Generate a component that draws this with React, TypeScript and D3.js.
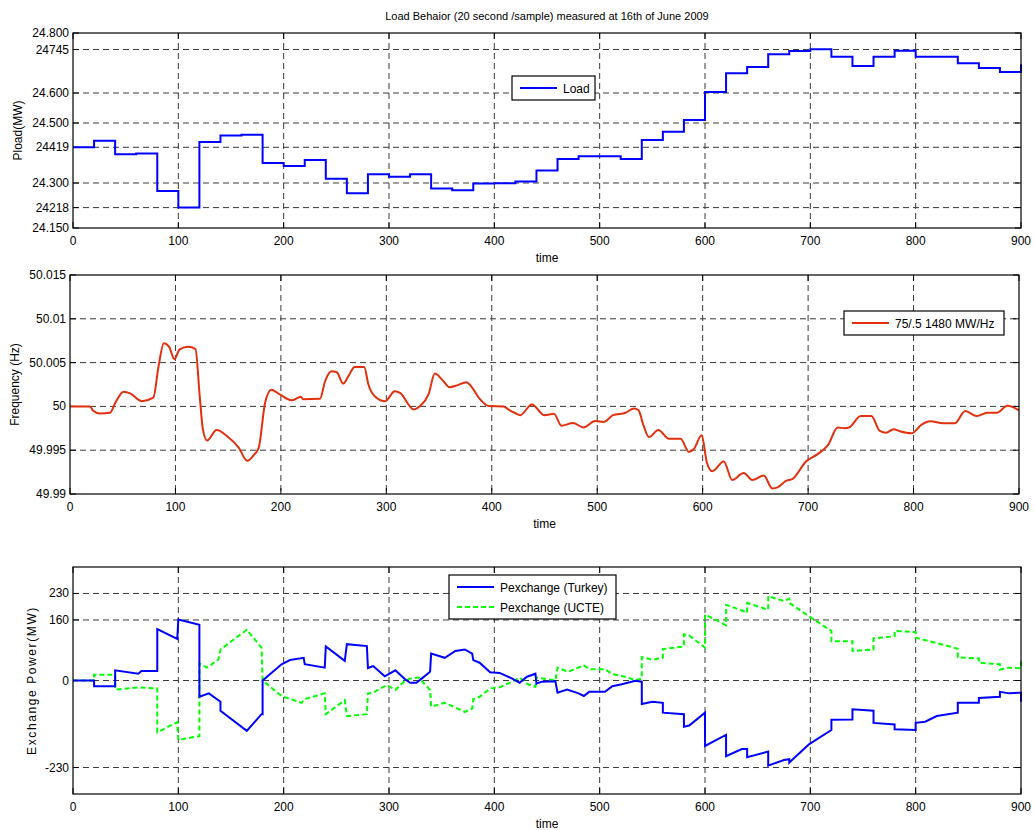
import React, { useRef, useEffect } from 'react';
import * as d3 from 'd3';

// Pload (x1000 MW), one sample every 20 s, last point at t=900
const loadTimes = d3.range(0, 901, 20);
const loadValues = [
  24.419, 24.441, 24.396, 24.398, 24.273, 24.218, 24.437, 24.458, 24.461, 24.367,
  24.357, 24.377, 24.314, 24.266, 24.329, 24.321, 24.329, 24.282, 24.276, 24.298,
  24.299, 24.305, 24.342, 24.380, 24.389, 24.389, 24.380, 24.443, 24.471, 24.510,
  24.603, 24.666, 24.687, 24.729, 24.740, 24.746, 24.721, 24.690, 24.721, 24.741,
  24.721, 24.721, 24.699, 24.683, 24.670, 24.696,
];
const loadTicks = [24.15, 24.218, 24.3, 24.419, 24.5, 24.6, 24.745, 24.8];
const loadTickLabels = ['24.150', '24218', '24.300', '24419', '24.500', '24.600', '24745', '24.800'];

// frequency (Hz)
const freqTimes = [
  0, 19, 22, 28, 38, 43, 51, 57, 68, 79, 84, 89, 94, 99, 104, 112, 119, 123, 126, 130,
  139, 149, 160, 168, 174, 179, 185, 191, 199, 210, 219, 221, 237, 242, 248, 253, 259, 264, 270, 279,
  283, 289, 299, 308, 313, 326, 332, 340, 346, 354, 360, 367, 376, 379, 389, 397, 411, 417, 422, 427,
  438, 450, 459, 466, 477, 487, 498, 506, 515, 527, 535, 539, 544, 549, 558, 568, 579, 587, 592, 599,
  604, 609, 620, 628, 639, 647, 658, 666, 671, 679, 685, 698, 709, 719, 728, 735, 739, 750, 760, 768,
  774, 781, 787, 798, 808, 816, 828, 839, 849, 860, 870, 879, 889, 900,
];
const freqValues = [
  50.0, 50.0, 49.9995, 49.9992, 49.99928, 50.00042, 50.00167, 50.00148, 50.0006, 50.001,
  50.0046, 50.0072, 50.0068, 50.0054, 50.0065, 50.0068, 50.00655, 50.0012, 49.9974, 49.9961,
  49.9973, 49.9966, 49.9953, 49.9938, 49.9944, 49.9953, 50.0004, 50.0019, 50.00136, 50.0007,
  50.0011, 50.00083, 50.00087, 50.0029, 50.004, 50.0039, 50.0026, 50.00345, 50.0045, 50.0045,
  50.0025, 50.00117, 50.0006, 50.00174, 50.00155, 49.99966, 50.00004, 50.00136, 50.00375, 50.0029,
  50.0022, 50.0024, 50.00277, 50.0025, 50.0008, 50.00004, 50.0, 49.99955, 49.99925, 49.999,
  50.00023, 49.999, 49.99917, 49.9978, 49.9981, 49.9976, 49.99833, 49.99822, 49.999, 49.99928,
  49.99977, 49.99958, 49.9978, 49.9965, 49.9973, 49.9963, 49.9963, 49.9948, 49.9952, 49.9967,
  49.9936, 49.9926, 49.9937, 49.9916, 49.9924, 49.9916, 49.9921, 49.99064, 49.99075, 49.9915,
  49.9917, 49.9937, 49.99455, 49.9956, 49.9976, 49.9975, 49.9976, 49.9989, 49.9989, 49.9972,
  49.997, 49.9974, 49.99716, 49.99693, 49.99795, 49.9983, 49.99807, 49.99807, 49.99947, 49.9989,
  49.99928, 49.99928, 50.00008, 49.99955,
];
const freqTicks = [49.99, 49.995, 50, 50.005, 50.01, 50.015];
const freqTickLabels = ['49.99', '49.995', '50', '50.005', '50.01', '50.015'];

// exchange power (MW); repeated times are the 20 s steps
const turkeyTimes = [
  0, 20, 20, 40, 40, 62, 65, 80, 80, 99, 100, 120, 120, 129, 140, 140, 165, 179, 180, 180,
  198, 206, 219, 220, 239, 240, 258, 260, 279, 280, 285, 296, 306, 315, 320, 326, 331, 339, 340, 353,
  363, 372, 379, 380, 386, 396, 405, 417, 424, 431, 439, 440, 445, 458, 460, 469, 480, 485, 490, 505,
  512, 521, 534, 540, 540, 550, 560, 560, 580, 580, 585, 600, 600, 610, 620, 620, 635, 640, 640, 660,
  660, 675, 680, 680, 699, 720, 720, 740, 740, 760, 760, 780, 780, 800, 800, 809, 820, 840, 840, 860,
  860, 880, 880, 889, 900, 900,
];
const turkeyValues = [
  0, 0, -15, -15, 27, 18, 25, 25, 136, 110, 161, 147, -43, -34, -56, -80, -133, -89, -89, 0,
  43, 54, 60, 43, 34, 90, 52, 96, 91, 33, 38, 11, 27, 4, -6, -6, 5, 23, 71, 60,
  78, 82, 71, 54, 47, 22, 20, 5, -6, 10, 18, -8, -3, -2, -32, -24, -34, -41, -30, -30,
  -15, -10, -1, -3, -62, -56, -59, -85, -89, -122, -119, -85, -173, -158, -144, -200, -181, -181, -203, -188,
  -225, -210, -208, -217, -168, -131, -104, -103, -76, -80, -112, -116, -129, -131, -112, -109, -94, -85, -59, -59,
  -46, -43, -30, -34, -32, -56,
];
const ucteTimes = [
  0, 20, 20, 40, 40, 62, 80, 80, 99, 100, 120, 120, 127, 138, 140, 165, 179, 180, 198, 217,
  220, 239, 240, 258, 260, 279, 280, 285, 298, 306, 315, 320, 328, 339, 340, 353, 372, 379, 380, 386,
  396, 405, 417, 424, 432, 439, 440, 458, 460, 470, 485, 490, 505, 512, 524, 534, 540, 540, 550, 560,
  560, 580, 580, 585, 600, 600, 610, 620, 620, 635, 640, 640, 660, 660, 675, 680, 680, 699, 720, 720,
  740, 740, 760, 760, 780, 780, 800, 800, 820, 840, 840, 860, 860, 880, 880, 889, 900, 900,
];
const ucteValues = [
  0, 0, 15, 15, -24, -18, -21, -137, -110, -157, -147, 45, 34, 55, 82, 134, 87, 0, -41, -59,
  -49, -34, -89, -52, -94, -89, -34, -32, -12, -25, -1, 5, 8, -25, -69, -59, -83, -74, -49, -43,
  -21, -18, -3, 8, -10, -17, 8, 0, 34, 23, 40, 30, 30, 17, 10, 1, 5, 62, 55, 60,
  83, 90, 122, 119, 87, 174, 161, 146, 200, 185, 179, 205, 187, 223, 210, 216, 205, 169, 131, 104,
  104, 78, 82, 111, 117, 131, 128, 113, 99, 84, 61, 58, 47, 43, 29, 34, 32, 55,
];
const exTicks = [-230, 0, 160, 230];

const timeTicks = [0, 100, 200, 300, 400, 500, 600, 700, 800, 900];

const FONT = '"Liberation Sans", Arial, sans-serif';
const GRID = '#3a3a3a';

function drawFrame(g, x, y, yTicks, yLabels, ylabel, ylabelX, letterSpacing) {
  const [x0, x1] = x.range();
  const [y1, y0] = y.range();
  const grid = g.append('g');
  timeTicks.slice(1, -1).forEach(t => {
    grid.append('line').attr('x1', x(t)).attr('x2', x(t)).attr('y1', y0).attr('y2', y1)
      .attr('stroke', GRID).attr('stroke-dasharray', '6,4');
  });
  yTicks.forEach(v => {
    if (Math.abs(y(v) - y0) < 1 || Math.abs(y(v) - y1) < 1) return;
    grid.append('line').attr('x1', x0).attr('x2', x1).attr('y1', y(v)).attr('y2', y(v))
      .attr('stroke', GRID).attr('stroke-dasharray', '6,4');
  });
  // tick marks (inside, all four sides)
  timeTicks.forEach(t => {
    g.append('line').attr('x1', x(t)).attr('x2', x(t)).attr('y1', y1).attr('y2', y1 - 6).attr('stroke', '#000');
    g.append('line').attr('x1', x(t)).attr('x2', x(t)).attr('y1', y0).attr('y2', y0 + 6).attr('stroke', '#000');
    g.append('text').attr('x', x(t)).attr('y', y1 + 17).attr('text-anchor', 'middle')
      .attr('font-size', 12).attr('font-family', FONT).text(t);
  });
  yTicks.forEach((v, i) => {
    g.append('line').attr('x1', x0).attr('x2', x0 + 6).attr('y1', y(v)).attr('y2', y(v)).attr('stroke', '#000');
    g.append('line').attr('x1', x1).attr('x2', x1 - 6).attr('y1', y(v)).attr('y2', y(v)).attr('stroke', '#000');
    g.append('text').attr('x', x0 - 4).attr('y', y(v) + 4).attr('text-anchor', 'end')
      .attr('font-size', 12).attr('font-family', FONT).text(yLabels[i]);
  });
  g.append('text').attr('x', (x0 + x1) / 2).attr('y', y1 + 34).attr('text-anchor', 'middle')
    .attr('font-size', 12).attr('font-family', FONT).text('time');
  g.append('text')
    .attr('transform', `translate(${ylabelX},${(y0 + y1) / 2}) rotate(-90)`)
    .attr('text-anchor', 'middle').attr('font-size', 12).attr('font-family', FONT)
    .attr('letter-spacing', letterSpacing).text(ylabel);
}

function drawBox(g, x, y) {
  const [x0, x1] = x.range();
  const [y1, y0] = y.range();
  g.append('rect').attr('x', x0).attr('y', y0).attr('width', x1 - x0).attr('height', y1 - y0)
    .attr('fill', 'none').attr('stroke', '#000').attr('stroke-width', 1.2);
}

function drawLegend(g, left, top, width, items) {
  const h = items.length * 20 + 4;
  g.append('rect').attr('x', left).attr('y', top).attr('width', width).attr('height', h)
    .attr('fill', '#fff').attr('stroke', '#000').attr('stroke-width', 1.2);
  items.forEach((it, i) => {
    const cy = top + 12 + i * 20;
    g.append('line').attr('x1', left + 8).attr('x2', left + 45).attr('y1', cy).attr('y2', cy)
      .attr('stroke', it.color).attr('stroke-width', 2).attr('stroke-dasharray', it.dash || null);
    g.append('text').attr('x', left + 51).attr('y', cy + 4.5).attr('font-size', 12)
      .attr('font-family', FONT).text(it.label);
  });
}

export default function App() {
  const svgRef = useRef(null);

  useEffect(() => {
    const svg = d3.select(svgRef.current);
    svg.selectAll('*').remove();

    svg.append('text').attr('x', 547).attr('y', 20).attr('text-anchor', 'middle')
      .attr('font-size', 11).attr('font-family', FONT)
      .text('Load Behaior (20 second /sample) measured at 16th of June 2009');

    // panel 1: load
    const x1 = d3.scaleLinear().domain([0, 900]).range([73, 1021]);
    const y1 = d3.scaleLinear().domain([24.15, 24.8]).range([228, 33]);
    const g1 = svg.append('g');
    drawFrame(g1, x1, y1, loadTicks, loadTickLabels, 'Pload(MW)', 22, 0);
    const loadLine = d3.line().x(d => x1(d[0])).y(d => y1(d[1])).curve(d3.curveStepAfter);
    g1.append('path').attr('d', loadLine(loadTimes.map((t, i) => [t, loadValues[i]])))
      .attr('fill', 'none').attr('stroke', '#0000ff').attr('stroke-width', 2);
    drawBox(g1, x1, y1);
    drawLegend(g1, 512, 76, 83, [{ label: 'Load', color: '#0000ff' }]);

    // panel 2: frequency
    const x2 = d3.scaleLinear().domain([0, 900]).range([70, 1019]);
    const y2 = d3.scaleLinear().domain([49.99, 50.015]).range([494, 275]);
    const g2 = svg.append('g');
    drawFrame(g2, x2, y2, freqTicks, freqTickLabels, 'Frequency (Hz)', 19, 0);
    const freqLine = d3.line().x(d => x2(d[0])).y(d => y2(d[1])).curve(d3.curveMonotoneX);
    g2.append('path').attr('d', freqLine(freqTimes.map((t, i) => [t, freqValues[i]])))
      .attr('fill', 'none').attr('stroke', '#e2300e').attr('stroke-width', 2);
    drawBox(g2, x2, y2);
    drawLegend(g2, 844, 311, 160, [{ label: '75/.5 1480 MW/Hz', color: '#e2300e' }]);

    // panel 3: exchange power
    const x3 = d3.scaleLinear().domain([0, 900]).range([73, 1021]);
    const y3 = d3.scaleLinear().domain([-300, 300]).range([794, 567]);
    const g3 = svg.append('g');
    drawFrame(g3, x3, y3, exTicks, exTicks.map(String), 'Exchange Power(MW)', 36, 1.6);
    const exLine = d3.line().x(d => x3(d[0])).y(d => y3(d[1]));
    g3.append('path').attr('d', exLine(ucteTimes.map((t, i) => [t, ucteValues[i]])))
      .attr('fill', 'none').attr('stroke', '#00ff00').attr('stroke-width', 2).attr('stroke-dasharray', '5,3');
    g3.append('path').attr('d', exLine(turkeyTimes.map((t, i) => [t, turkeyValues[i]])))
      .attr('fill', 'none').attr('stroke', '#0000ff').attr('stroke-width', 2);
    drawBox(g3, x3, y3);
    drawLegend(g3, 449, 575, 167, [
      { label: 'Pexchange (Turkey)', color: '#0000ff' },
      { label: 'Pexchange (UCTE)', color: '#00ff00', dash: '5,3' },
    ]);
  });

  return (
    <svg ref={svgRef} width={1035} height={830}
      style={{ position: 'absolute', left: 0, top: 0, background: '#fff' }} />
  );
}
